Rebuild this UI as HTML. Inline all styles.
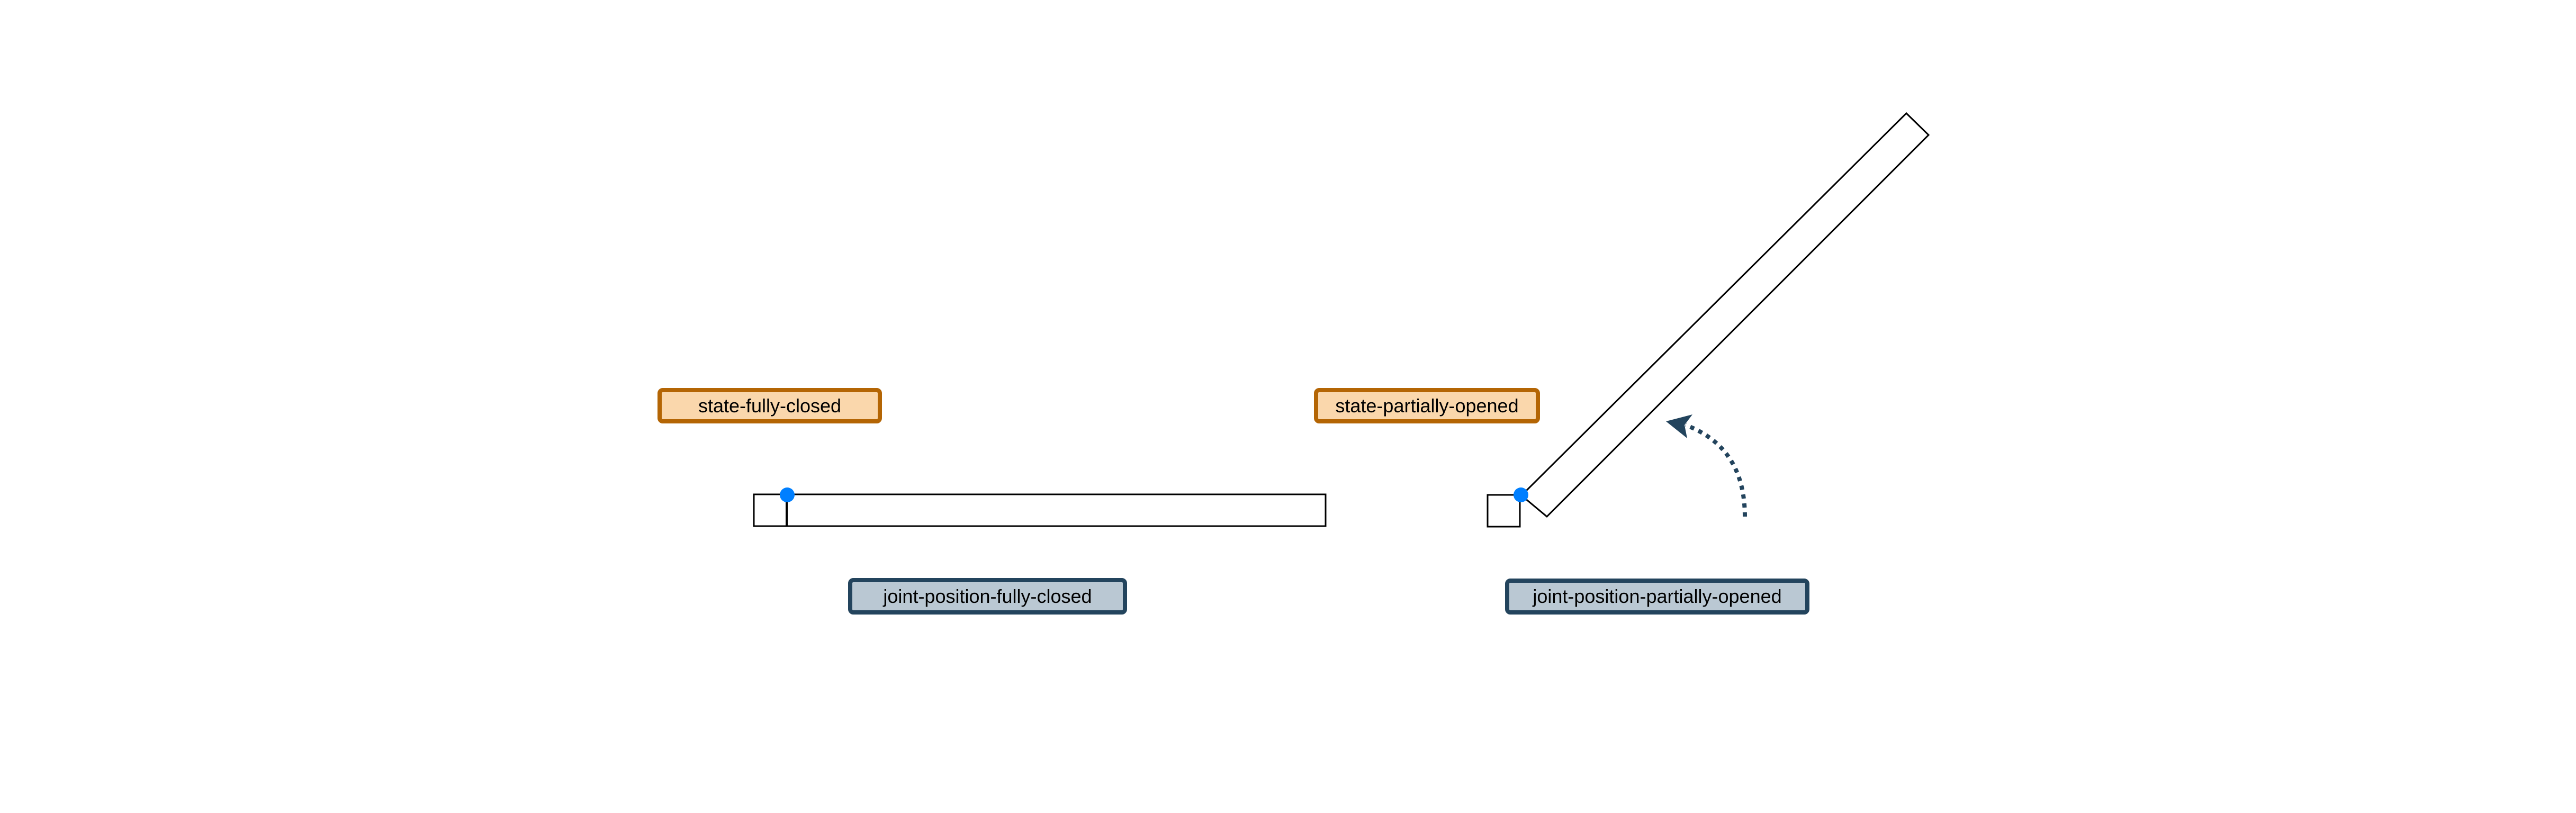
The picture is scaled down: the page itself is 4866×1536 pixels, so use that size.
<!DOCTYPE html>
<html><head><meta charset="utf-8"><style>
html,body{margin:0;padding:0;background:#fff;}
body{width:4866px;height:1536px;position:relative;overflow:hidden;font-family:"Liberation Sans",sans-serif;}
.lbl{position:absolute;box-sizing:border-box;border-radius:10px;border:8px solid;display:flex;align-items:center;justify-content:center;font-size:36px;color:#000;white-space:nowrap;}
.o{background:#fad7ac;border-color:#b46504;}
.b{background:#bac8d3;border-color:#23445d;}
</style></head><body>
<svg width="4866" height="1536" style="position:absolute;left:0;top:0">
<rect x="1424" y="934" width="1080" height="60" fill="#fff" stroke="#000" stroke-width="3"/>
<line x1="1486" y1="934" x2="1486" y2="995" stroke="#000" stroke-width="4"/>
<circle cx="1487" cy="935" r="14" fill="#007fff"/>
<rect x="2810" y="935" width="61" height="60" fill="#fff" stroke="#000" stroke-width="3"/>
<polygon points="3601,214 3643,255 2922,976 2874,936" fill="#fff" stroke="#000" stroke-width="3"/>
<circle cx="2873" cy="935" r="14" fill="#007fff"/>
<path d="M3296,976 Q3296,845 3184,803" fill="none" stroke="#23445d" stroke-width="8" stroke-dasharray="8,9"/>
<polygon points="3147,796 3197,783 3182,803 3187,828" fill="#23445d"/>
</svg>
<div class="lbl o" style="left:1242px;top:733px;width:424px;height:67px">state-fully-closed</div>
<div class="lbl o" style="left:2482px;top:733px;width:427px;height:67px">state-partially-opened</div>
<div class="lbl b" style="left:1602px;top:1092px;width:527px;height:69px">joint-position-fully-closed</div>
<div class="lbl b" style="left:2843px;top:1093px;width:575px;height:68px">joint-position-partially-opened</div>
</body></html>
